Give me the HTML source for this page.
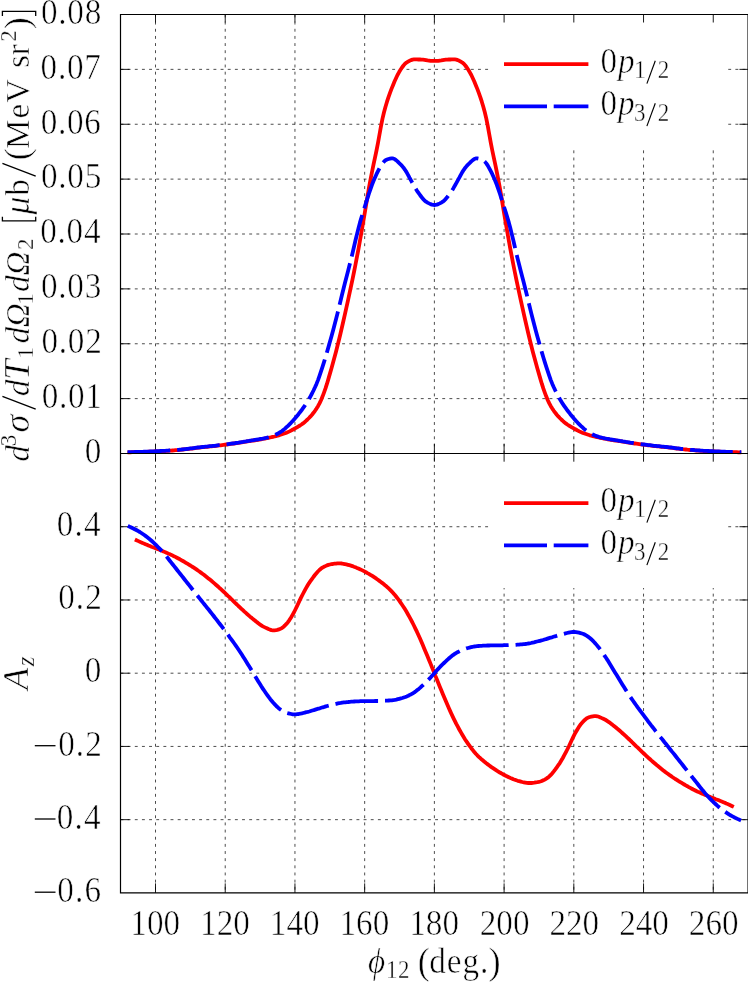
<!DOCTYPE html><html><head><meta charset="utf-8"><title>chart</title><style>html,body{margin:0;padding:0;background:#fff}svg text{stroke:#fff;stroke-width:0.55px}body{width:748px;height:982px;overflow:hidden;position:relative;font-family:"Liberation Serif",serif}</style></head><body><svg width="748" height="982" viewBox="0 0 748 982" style="position:absolute;left:0;top:0;will-change:transform;font-family:'Liberation Serif',serif">
<rect width="748" height="982" fill="#fff"/>
<path d="M155.50,14.5 V892.9 M225.22,14.5 V892.9 M294.94,14.5 V892.9 M364.66,14.5 V892.9 M434.38,14.5 V892.9 M504.10,14.5 V892.9 M573.82,14.5 V892.9 M643.54,14.5 V892.9 M713.26,14.5 V892.9 M120.5,398.62 H748 M120.5,343.75 H748 M120.5,288.88 H748 M120.5,234.00 H748 M120.5,179.12 H748 M120.5,124.25 H748 M120.5,69.37 H748 M120.5,526.73 H748 M120.5,599.97 H748 M120.5,673.20 H748 M120.5,746.43 H748 M120.5,819.67 H748" stroke="#111" stroke-width="0.75" stroke-dasharray="2.9 4.25" fill="none"/>
<rect x="491.5" y="15.1" width="235.5" height="132.9" fill="#fff"/>
<rect x="491.5" y="454.1" width="235.5" height="133.9" fill="#fff"/>
<path d="M155.50,14.5 v8 M155.50,444.0 v17.7 M155.50,892.9 v-9.5 M225.22,14.5 v8 M225.22,444.0 v17.7 M225.22,892.9 v-9.5 M294.94,14.5 v8 M294.94,444.0 v17.7 M294.94,892.9 v-9.5 M364.66,14.5 v8 M364.66,444.0 v17.7 M364.66,892.9 v-9.5 M434.38,14.5 v8 M434.38,444.0 v17.7 M434.38,892.9 v-9.5 M504.10,14.5 v8 M504.10,444.0 v17.7 M504.10,892.9 v-9.5 M573.82,14.5 v8 M573.82,444.0 v17.7 M573.82,892.9 v-9.5 M643.54,14.5 v8 M643.54,444.0 v17.7 M643.54,892.9 v-9.5 M713.26,14.5 v8 M713.26,444.0 v17.7 M713.26,892.9 v-9.5 M120.5,398.62 h9 M748.05,398.62 h-8.6 M120.5,343.75 h9 M748.05,343.75 h-8.6 M120.5,288.88 h9 M748.05,288.88 h-8.6 M120.5,234.00 h9 M748.05,234.00 h-8.6 M120.5,179.12 h9 M748.05,179.12 h-8.6 M120.5,124.25 h9 M748.05,124.25 h-8.6 M120.5,69.37 h9 M748.05,69.37 h-8.6 M120.5,526.73 h9 M748.05,526.73 h-8.6 M120.5,599.97 h9 M748.05,599.97 h-8.6 M120.5,673.20 h9 M748.05,673.20 h-8.6 M120.5,746.43 h9 M748.05,746.43 h-8.6 M120.5,819.67 h9 M748.05,819.67 h-8.6" stroke="#000" stroke-width="0.9" fill="none"/>
<path d="M127.5,452.3 L129.0,452.3 L130.5,452.3 L132.0,452.2 L133.5,452.2 L135.0,452.2 L136.5,452.1 L138.0,452.1 L139.5,452.0 L141.0,452.0 L142.5,452.0 L144.0,451.9 L145.5,451.9 L147.0,451.8 L148.5,451.7 L150.0,451.7 L151.5,451.6 L153.0,451.6 L154.5,451.5 L156.0,451.5 L157.5,451.4 L159.0,451.3 L160.5,451.2 L162.0,451.2 L163.5,451.1 L165.0,451.0 L166.5,450.9 L168.0,450.8 L169.5,450.7 L171.0,450.6 L172.5,450.5 L174.0,450.4 L175.5,450.2 L177.0,450.1 L178.5,450.0 L180.0,449.8 L181.5,449.7 L183.0,449.5 L184.5,449.3 L186.0,449.2 L187.5,449.0 L189.0,448.8 L190.5,448.6 L192.0,448.5 L193.5,448.3 L195.0,448.1 L196.5,447.9 L198.0,447.7 L199.5,447.6 L201.0,447.4 L202.5,447.2 L204.0,447.1 L205.5,446.9 L207.0,446.8 L208.5,446.6 L210.0,446.4 L211.5,446.3 L213.0,446.1 L214.5,446.0 L216.0,445.8 L217.5,445.6 L219.0,445.4 L220.5,445.3 L222.0,445.1 L223.5,444.9 L225.0,444.7 L226.5,444.5 L228.0,444.3 L229.5,444.1 L231.0,443.9 L232.5,443.7 L234.0,443.5 L235.5,443.3 L237.0,443.0 L238.5,442.8 L240.0,442.6 L241.5,442.4 L243.0,442.1 L244.5,441.9 L246.0,441.7 L247.5,441.4 L249.0,441.2 L250.5,441.0 L252.0,440.7 L253.5,440.5 L255.0,440.3 L256.5,440.0 L258.0,439.8 L259.5,439.5 L261.0,439.3 L262.5,439.0 L264.0,438.7 L265.5,438.5 L267.0,438.2 L268.5,437.9 L270.0,437.5 L271.5,437.2 L273.0,436.8 L274.5,436.5 L276.0,436.1 L277.5,435.7 L279.0,435.3 L280.5,434.8 L282.0,434.3 L283.5,433.8 L285.0,433.3 L286.5,432.7 L288.0,432.1 L289.5,431.4 L291.0,430.6 L292.5,429.8 L294.0,429.0 L295.5,428.1 L297.0,427.3 L298.5,426.4 L300.0,425.5 L301.5,424.5 L303.0,423.4 L304.5,422.2 L306.0,420.9 L307.5,419.5 L309.0,418.0 L310.5,416.4 L312.0,414.7 L313.5,412.8 L315.0,410.8 L316.5,408.6 L318.0,406.2 L319.5,403.4 L321.0,400.2 L322.5,396.6 L324.0,392.6 L325.5,388.4 L327.0,383.7 L328.5,378.6 L330.0,373.4 L331.5,368.2 L333.0,362.8 L334.5,357.3 L336.0,351.7 L337.5,345.8 L339.0,339.7 L340.5,333.5 L342.0,327.0 L343.5,320.5 L345.0,313.9 L346.5,307.1 L348.0,300.3 L349.5,293.3 L351.0,286.4 L352.5,279.3 L354.0,272.0 L355.5,264.5 L357.0,256.7 L358.5,248.8 L360.0,240.5 L361.5,232.0 L363.0,223.3 L364.5,214.5 L366.0,205.5 L367.5,196.4 L369.0,187.6 L370.5,179.6 L372.0,172.0 L373.5,164.7 L375.0,157.6 L376.5,150.5 L378.0,142.8 L379.5,134.5 L381.0,126.2 L382.5,118.6 L384.0,112.2 L385.5,106.7 L387.0,101.7 L388.5,97.1 L390.0,92.9 L391.5,88.9 L393.0,85.2 L394.5,81.5 L396.0,78.2 L397.5,75.0 L399.0,72.3 L400.5,69.8 L402.0,67.5 L403.5,65.5 L405.0,63.8 L406.5,62.6 L408.0,61.7 L409.5,60.8 L411.0,60.1 L412.5,59.6 L414.0,59.4 L415.5,59.4 L417.0,59.4 L418.5,59.5 L420.0,59.5 L421.5,59.6 L423.0,59.6 L424.5,59.8 L426.0,60.1 L427.5,60.4 L429.0,60.6 L430.5,60.8 L432.0,60.9 L433.5,60.9 L434.4,60.9 L435.3,60.9 L436.8,60.9 L438.3,60.8 L439.8,60.6 L441.3,60.4 L442.8,60.1 L444.3,59.8 L445.8,59.6 L447.3,59.6 L448.8,59.5 L450.3,59.5 L451.8,59.4 L453.3,59.4 L454.8,59.4 L456.3,59.6 L457.8,60.1 L459.3,60.8 L460.8,61.7 L462.3,62.6 L463.8,63.8 L465.3,65.5 L466.8,67.5 L468.3,69.8 L469.8,72.3 L471.3,75.0 L472.8,78.2 L474.3,81.5 L475.8,85.2 L477.3,88.9 L478.8,92.9 L480.3,97.1 L481.8,101.7 L483.3,106.7 L484.8,112.2 L486.3,118.6 L487.8,126.2 L489.3,134.5 L490.8,142.8 L492.3,150.5 L493.8,157.6 L495.3,164.7 L496.8,172.0 L498.3,179.6 L499.8,187.6 L501.3,196.4 L502.8,205.5 L504.3,214.5 L505.8,223.3 L507.3,232.0 L508.8,240.5 L510.3,248.8 L511.8,256.7 L513.3,264.5 L514.8,272.0 L516.3,279.3 L517.8,286.4 L519.3,293.3 L520.8,300.3 L522.3,307.1 L523.8,313.9 L525.3,320.5 L526.8,327.0 L528.3,333.5 L529.8,339.7 L531.3,345.8 L532.8,351.7 L534.3,357.3 L535.8,362.8 L537.3,368.2 L538.8,373.4 L540.3,378.6 L541.8,383.7 L543.3,388.4 L544.8,392.6 L546.3,396.6 L547.8,400.2 L549.3,403.4 L550.8,406.2 L552.3,408.6 L553.8,410.8 L555.3,412.8 L556.8,414.7 L558.3,416.4 L559.8,418.0 L561.3,419.5 L562.8,420.9 L564.3,422.2 L565.8,423.4 L567.3,424.5 L568.8,425.5 L570.3,426.4 L571.8,427.3 L573.3,428.1 L574.8,429.0 L576.3,429.8 L577.8,430.6 L579.3,431.4 L580.8,432.1 L582.3,432.7 L583.8,433.3 L585.3,433.8 L586.8,434.3 L588.3,434.8 L589.8,435.3 L591.3,435.7 L592.8,436.1 L594.3,436.5 L595.8,436.8 L597.3,437.2 L598.8,437.5 L600.3,437.9 L601.8,438.2 L603.3,438.5 L604.8,438.7 L606.3,439.0 L607.8,439.3 L609.3,439.5 L610.8,439.8 L612.3,440.0 L613.8,440.3 L615.3,440.5 L616.8,440.7 L618.3,441.0 L619.8,441.2 L621.3,441.4 L622.8,441.7 L624.3,441.9 L625.8,442.1 L627.3,442.4 L628.8,442.6 L630.3,442.8 L631.8,443.0 L633.3,443.3 L634.8,443.5 L636.3,443.7 L637.8,443.9 L639.3,444.1 L640.8,444.3 L642.3,444.5 L643.8,444.7 L645.3,444.9 L646.8,445.1 L648.3,445.3 L649.8,445.4 L651.3,445.6 L652.8,445.8 L654.3,446.0 L655.8,446.1 L657.3,446.3 L658.8,446.4 L660.3,446.6 L661.8,446.8 L663.3,446.9 L664.8,447.1 L666.3,447.2 L667.8,447.4 L669.3,447.6 L670.8,447.7 L672.3,447.9 L673.8,448.1 L675.3,448.3 L676.8,448.5 L678.3,448.6 L679.8,448.8 L681.3,449.0 L682.8,449.2 L684.3,449.3 L685.8,449.5 L687.3,449.7 L688.8,449.8 L690.3,450.0 L691.8,450.1 L693.3,450.2 L694.8,450.4 L696.3,450.5 L697.8,450.6 L699.3,450.7 L700.8,450.8 L702.3,450.9 L703.8,451.0 L705.3,451.1 L706.8,451.2 L708.3,451.2 L709.8,451.3 L711.3,451.4 L712.8,451.5 L714.3,451.5 L715.8,451.6 L717.3,451.6 L718.8,451.7 L720.3,451.7 L721.8,451.8 L723.3,451.9 L724.8,451.9 L726.3,452.0 L727.8,452.0 L729.3,452.0 L730.8,452.1 L732.3,452.1 L733.8,452.2 L735.3,452.2 L736.8,452.2 L738.3,452.3 L739.8,452.3 L741.3,452.3" stroke="#ff0000" stroke-width="3.8" fill="none" stroke-linejoin="round"/>
<path d="M127.5,452.2 L129.0,452.2 L130.5,452.1 L132.0,452.1 L133.5,452.1 L135.0,452.0 L136.5,452.0 L138.0,451.9 L139.5,451.9 L141.0,451.8 L142.5,451.8 L144.0,451.7 L145.5,451.7 L147.0,451.6 L148.5,451.6 L150.0,451.5 L151.5,451.4 L153.0,451.4 L154.5,451.3 L156.0,451.2 L157.5,451.2 L159.0,451.1 L160.5,451.0 L162.0,450.9 L163.5,450.9 L165.0,450.8 L166.5,450.7 L168.0,450.6 L169.5,450.5 L171.0,450.4 L172.5,450.3 L174.0,450.2 L175.5,450.0 L177.0,449.9 L178.5,449.8 L180.0,449.6 L181.5,449.5 L183.0,449.3 L184.5,449.1 L186.0,449.0 L187.5,448.8 L189.0,448.6 L190.5,448.4 L192.0,448.3 L193.5,448.1 L195.0,447.9 L196.5,447.7 L198.0,447.5 L199.5,447.4 L201.0,447.2 L202.5,447.0 L204.0,446.9 L205.5,446.7 L207.0,446.6 L208.5,446.4 L210.0,446.2 L211.5,446.1 L213.0,445.9 L214.5,445.8 L216.0,445.6 L217.5,445.4 L219.0,445.2 L220.5,445.1 L222.0,444.9 L223.5,444.7 L225.0,444.5 L226.5,444.3 L228.0,444.1 L229.5,443.9 L231.0,443.7 L232.5,443.5 L234.0,443.3 L235.5,443.0 L237.0,442.8 L238.5,442.6 L240.0,442.3 L241.5,442.1 L243.0,441.9 L244.5,441.6 L246.0,441.4 L247.5,441.1 L249.0,440.9 L250.5,440.6 L252.0,440.4 L253.5,440.2 L255.0,439.9 L256.5,439.7 L258.0,439.5 L259.5,439.2 L261.0,438.9 L262.5,438.7 L264.0,438.4 L265.5,438.0 L267.0,437.7 L268.5,437.3 L270.0,436.9 L271.5,436.4 L273.0,435.9 L274.5,435.2 L276.0,434.5 L277.5,433.8 L279.0,432.9 L280.5,432.0 L282.0,431.0 L283.5,429.9 L285.0,428.6 L286.5,427.2 L288.0,425.8 L289.5,424.3 L291.0,422.8 L292.5,421.2 L294.0,419.6 L295.5,417.8 L297.0,416.0 L298.5,414.2 L300.0,412.2 L301.5,410.3 L303.0,408.2 L304.5,406.1 L306.0,403.9 L307.5,401.5 L309.0,399.0 L310.5,396.3 L312.0,393.5 L313.5,390.5 L315.0,387.3 L316.5,383.9 L318.0,380.1 L319.5,375.9 L321.0,371.4 L322.5,366.8 L324.0,362.1 L325.5,357.2 L327.0,352.1 L328.5,346.9 L330.0,341.6 L331.5,336.2 L333.0,330.7 L334.5,325.1 L336.0,319.3 L337.5,313.4 L339.0,307.2 L340.5,301.0 L342.0,294.8 L343.5,288.7 L345.0,282.8 L346.5,277.0 L348.0,271.2 L349.5,265.3 L351.0,259.4 L352.5,253.2 L354.0,246.8 L355.5,240.3 L357.0,234.1 L358.5,228.1 L360.0,222.4 L361.5,217.2 L363.0,212.4 L364.5,207.7 L366.0,202.9 L367.5,198.1 L369.0,193.5 L370.5,189.1 L372.0,184.8 L373.5,181.0 L375.0,177.5 L376.5,174.2 L378.0,171.2 L379.5,168.3 L381.0,165.6 L382.5,163.4 L384.0,161.6 L385.5,160.2 L387.0,159.5 L388.5,159.0 L390.0,158.6 L391.5,158.3 L393.0,158.4 L394.5,159.0 L396.0,160.1 L397.5,161.4 L399.0,162.9 L400.5,164.3 L402.0,165.9 L403.5,167.7 L405.0,169.8 L406.5,172.1 L408.0,174.8 L409.5,177.7 L411.0,180.4 L412.5,183.1 L414.0,185.8 L415.5,188.4 L417.0,190.8 L418.5,192.9 L420.0,195.0 L421.5,197.0 L423.0,198.9 L424.5,200.5 L426.0,201.7 L427.5,202.6 L429.0,203.4 L430.5,204.1 L432.0,204.6 L433.5,204.9 L434.4,205.0 L435.3,204.9 L436.8,204.6 L438.3,204.1 L439.8,203.4 L441.3,202.6 L442.8,201.7 L444.3,200.5 L445.8,198.9 L447.3,197.0 L448.8,195.0 L450.3,192.9 L451.8,190.8 L453.3,188.4 L454.8,185.8 L456.3,183.1 L457.8,180.4 L459.3,177.7 L460.8,174.8 L462.3,172.1 L463.8,169.8 L465.3,167.7 L466.8,165.9 L468.3,164.3 L469.8,162.9 L471.3,161.4 L472.8,160.1 L474.3,159.0 L475.8,158.4 L477.3,158.3 L478.8,158.6 L480.3,159.0 L481.8,159.5 L483.3,160.2 L484.8,161.6 L486.3,163.4 L487.8,165.6 L489.3,168.3 L490.8,171.2 L492.3,174.2 L493.8,177.5 L495.3,181.0 L496.8,184.8 L498.3,189.1 L499.8,193.5 L501.3,198.1 L502.8,202.9 L504.3,207.7 L505.8,212.4 L507.3,217.2 L508.8,222.4 L510.3,228.1 L511.8,234.1 L513.3,240.3 L514.8,246.8 L516.3,253.2 L517.8,259.4 L519.3,265.3 L520.8,271.2 L522.3,277.0 L523.8,282.8 L525.3,288.7 L526.8,294.8 L528.3,301.0 L529.8,307.2 L531.3,313.4 L532.8,319.3 L534.3,325.1 L535.8,330.7 L537.3,336.2 L538.8,341.6 L540.3,346.9 L541.8,352.1 L543.3,357.2 L544.8,362.1 L546.3,366.8 L547.8,371.4 L549.3,375.9 L550.8,380.1 L552.3,383.9 L553.8,387.3 L555.3,390.5 L556.8,393.5 L558.3,396.3 L559.8,399.0 L561.3,401.5 L562.8,403.9 L564.3,406.1 L565.8,408.2 L567.3,410.3 L568.8,412.2 L570.3,414.2 L571.8,416.0 L573.3,417.8 L574.8,419.6 L576.3,421.2 L577.8,422.8 L579.3,424.3 L580.8,425.8 L582.3,427.2 L583.8,428.6 L585.3,429.9 L586.8,431.0 L588.3,432.0 L589.8,432.9 L591.3,433.8 L592.8,434.5 L594.3,435.2 L595.8,435.9 L597.3,436.4 L598.8,436.9 L600.3,437.3 L601.8,437.7 L603.3,438.0 L604.8,438.4 L606.3,438.7 L607.8,438.9 L609.3,439.2 L610.8,439.5 L612.3,439.7 L613.8,439.9 L615.3,440.2 L616.8,440.4 L618.3,440.6 L619.8,440.9 L621.3,441.1 L622.8,441.4 L624.3,441.6 L625.8,441.9 L627.3,442.1 L628.8,442.3 L630.3,442.6 L631.8,442.8 L633.3,443.0 L634.8,443.3 L636.3,443.5 L637.8,443.7 L639.3,443.9 L640.8,444.1 L642.3,444.3 L643.8,444.5 L645.3,444.7 L646.8,444.9 L648.3,445.1 L649.8,445.2 L651.3,445.4 L652.8,445.6 L654.3,445.8 L655.8,445.9 L657.3,446.1 L658.8,446.2 L660.3,446.4 L661.8,446.6 L663.3,446.7 L664.8,446.9 L666.3,447.0 L667.8,447.2 L669.3,447.4 L670.8,447.5 L672.3,447.7 L673.8,447.9 L675.3,448.1 L676.8,448.3 L678.3,448.4 L679.8,448.6 L681.3,448.8 L682.8,449.0 L684.3,449.1 L685.8,449.3 L687.3,449.5 L688.8,449.6 L690.3,449.8 L691.8,449.9 L693.3,450.0 L694.8,450.2 L696.3,450.3 L697.8,450.4 L699.3,450.5 L700.8,450.6 L702.3,450.7 L703.8,450.8 L705.3,450.9 L706.8,450.9 L708.3,451.0 L709.8,451.1 L711.3,451.2 L712.8,451.2 L714.3,451.3 L715.8,451.4 L717.3,451.4 L718.8,451.5 L720.3,451.6 L721.8,451.6 L723.3,451.7 L724.8,451.7 L726.3,451.8 L727.8,451.8 L729.3,451.9 L730.8,451.9 L732.3,452.0 L733.8,452.0 L735.3,452.1 L736.8,452.1 L738.3,452.1 L739.8,452.2 L741.3,452.2" stroke="#0000ff" stroke-width="3.8" fill="none" stroke-dasharray="42.8 6.95" stroke-linejoin="round"/>
<path d="M134.9,539.5 L136.4,540.2 L137.9,540.9 L139.4,541.6 L140.9,542.3 L142.4,542.9 L143.9,543.6 L145.4,544.2 L146.9,544.8 L148.4,545.5 L149.9,546.1 L151.4,546.7 L152.9,547.2 L154.4,547.8 L155.9,548.4 L157.4,549.0 L158.9,549.6 L160.4,550.2 L161.9,550.8 L163.4,551.4 L164.9,552.1 L166.4,552.7 L167.9,553.4 L169.4,554.1 L170.9,554.7 L172.4,555.4 L173.9,556.2 L175.4,556.9 L176.9,557.7 L178.4,558.5 L179.9,559.3 L181.4,560.2 L182.9,561.0 L184.4,561.9 L185.9,562.8 L187.4,563.7 L188.9,564.6 L190.4,565.5 L191.9,566.5 L193.4,567.4 L194.9,568.4 L196.4,569.4 L197.9,570.5 L199.4,571.5 L200.9,572.6 L202.4,573.7 L203.9,574.8 L205.4,576.0 L206.9,577.2 L208.4,578.4 L209.9,579.6 L211.4,580.8 L212.9,582.1 L214.4,583.4 L215.9,584.7 L217.4,586.0 L218.9,587.4 L220.4,588.7 L221.9,590.1 L223.4,591.5 L224.9,592.9 L226.4,594.3 L227.9,595.8 L229.4,597.2 L230.9,598.7 L232.4,600.1 L233.9,601.6 L235.4,603.1 L236.9,604.5 L238.4,606.0 L239.9,607.4 L241.4,608.8 L242.9,610.2 L244.4,611.6 L245.9,612.9 L247.4,614.3 L248.9,615.6 L250.4,616.9 L251.9,618.1 L253.4,619.4 L254.9,620.5 L256.4,621.8 L257.9,622.9 L259.4,624.1 L260.9,625.1 L262.4,626.1 L263.9,626.9 L265.4,627.6 L266.9,628.3 L268.4,629.0 L269.9,629.6 L271.4,630.1 L272.9,630.3 L274.4,630.3 L275.9,630.1 L277.4,629.8 L278.9,629.4 L280.4,628.8 L281.9,628.1 L283.4,626.9 L284.9,625.5 L286.4,623.9 L287.9,622.2 L289.4,620.1 L290.9,617.7 L292.4,615.1 L293.9,612.5 L295.4,609.5 L296.9,606.4 L298.4,603.2 L299.9,599.9 L301.4,596.9 L302.9,594.0 L304.4,591.2 L305.9,588.4 L307.4,585.8 L308.9,583.3 L310.4,581.2 L311.9,579.1 L313.4,577.0 L314.9,575.0 L316.4,573.2 L317.9,571.5 L319.4,570.0 L320.9,568.7 L322.4,567.7 L323.9,566.8 L325.4,566.1 L326.9,565.4 L328.4,564.9 L329.9,564.5 L331.4,564.2 L332.9,564.0 L334.4,563.7 L335.9,563.6 L337.4,563.4 L338.9,563.4 L340.4,563.4 L341.9,563.5 L343.4,563.8 L344.9,564.1 L346.4,564.4 L347.9,564.8 L349.4,565.2 L350.9,565.6 L352.4,566.1 L353.9,566.7 L355.4,567.2 L356.9,567.9 L358.4,568.5 L359.9,569.2 L361.4,569.9 L362.9,570.6 L364.4,571.4 L365.9,572.2 L367.4,573.1 L368.9,573.9 L370.4,574.8 L371.9,575.7 L373.4,576.7 L374.9,577.7 L376.4,578.7 L377.9,579.8 L379.4,580.9 L380.9,582.0 L382.4,583.1 L383.9,584.3 L385.4,585.6 L386.9,586.8 L388.4,588.2 L389.9,589.6 L391.4,591.1 L392.9,592.7 L394.4,594.4 L395.9,596.3 L397.4,598.2 L398.9,600.2 L400.4,602.3 L401.9,604.5 L403.4,606.7 L404.9,609.1 L406.4,611.6 L407.9,614.2 L409.4,616.9 L410.9,619.7 L412.4,622.5 L413.9,625.5 L415.4,628.6 L416.9,631.7 L418.4,635.0 L419.9,638.3 L421.4,641.8 L422.9,645.3 L424.4,648.9 L425.9,652.5 L427.4,656.1 L428.9,659.7 L430.4,663.4 L431.9,667.1 L433.4,670.8 L434.4,673.2 L435.3,675.6 L436.8,679.3 L438.3,683.0 L439.8,686.7 L441.3,690.3 L442.8,693.9 L444.3,697.5 L445.8,701.1 L447.3,704.6 L448.8,708.1 L450.3,711.4 L451.8,714.7 L453.3,717.8 L454.8,720.9 L456.3,723.9 L457.8,726.7 L459.3,729.5 L460.8,732.2 L462.3,734.8 L463.8,737.3 L465.3,739.7 L466.8,741.9 L468.3,744.1 L469.8,746.2 L471.3,748.2 L472.8,750.1 L474.3,752.0 L475.8,753.7 L477.3,755.3 L478.8,756.8 L480.3,758.2 L481.8,759.6 L483.3,760.8 L484.8,762.1 L486.3,763.3 L487.8,764.4 L489.3,765.5 L490.8,766.6 L492.3,767.7 L493.8,768.7 L495.3,769.7 L496.8,770.7 L498.3,771.6 L499.8,772.5 L501.3,773.3 L502.8,774.2 L504.3,775.0 L505.8,775.8 L507.3,776.5 L508.8,777.2 L510.3,777.9 L511.8,778.5 L513.3,779.2 L514.8,779.7 L516.3,780.3 L517.8,780.8 L519.3,781.2 L520.8,781.6 L522.3,782.0 L523.8,782.3 L525.3,782.6 L526.8,782.9 L528.3,783.0 L529.8,783.0 L531.3,783.0 L532.8,782.8 L534.3,782.7 L535.8,782.4 L537.3,782.2 L538.8,781.9 L540.3,781.5 L541.8,781.0 L543.3,780.3 L544.8,779.6 L546.3,778.7 L547.8,777.7 L549.3,776.4 L550.8,774.9 L552.3,773.2 L553.8,771.4 L555.3,769.4 L556.8,767.3 L558.3,765.2 L559.8,763.1 L561.3,760.6 L562.8,758.0 L564.3,755.2 L565.8,752.4 L567.3,749.5 L568.8,746.5 L570.3,743.2 L571.8,740.0 L573.3,736.9 L574.8,733.9 L576.3,731.3 L577.8,728.7 L579.3,726.3 L580.8,724.2 L582.3,722.5 L583.8,720.9 L585.3,719.5 L586.8,718.3 L588.3,717.6 L589.8,717.0 L591.3,716.6 L592.8,716.3 L594.3,716.1 L595.8,716.1 L597.3,716.3 L598.8,716.8 L600.3,717.4 L601.8,718.1 L603.3,718.8 L604.8,719.5 L606.3,720.3 L607.8,721.3 L609.3,722.3 L610.8,723.5 L612.3,724.6 L613.8,725.9 L615.3,727.0 L616.8,728.3 L618.3,729.5 L619.8,730.8 L621.3,732.1 L622.8,733.5 L624.3,734.8 L625.8,736.2 L627.3,737.6 L628.8,739.0 L630.3,740.4 L631.8,741.9 L633.3,743.3 L634.8,744.8 L636.3,746.3 L637.8,747.7 L639.3,749.2 L640.8,750.6 L642.3,752.1 L643.8,753.5 L645.3,754.9 L646.8,756.3 L648.3,757.7 L649.8,759.0 L651.3,760.4 L652.8,761.7 L654.3,763.0 L655.8,764.3 L657.3,765.6 L658.8,766.8 L660.3,768.0 L661.8,769.2 L663.3,770.4 L664.8,771.6 L666.3,772.7 L667.8,773.8 L669.3,774.9 L670.8,775.9 L672.3,777.0 L673.8,778.0 L675.3,779.0 L676.8,779.9 L678.3,780.9 L679.8,781.8 L681.3,782.7 L682.8,783.6 L684.3,784.5 L685.8,785.4 L687.3,786.2 L688.8,787.1 L690.3,787.9 L691.8,788.7 L693.3,789.5 L694.8,790.2 L696.3,791.0 L697.8,791.7 L699.3,792.3 L700.8,793.0 L702.3,793.7 L703.8,794.3 L705.3,795.0 L706.8,795.6 L708.3,796.2 L709.8,796.8 L711.3,797.4 L712.8,798.0 L714.3,798.6 L715.8,799.2 L717.3,799.7 L718.8,800.3 L720.3,800.9 L721.8,801.6 L723.3,802.2 L724.8,802.8 L726.3,803.5 L727.8,804.1 L729.3,804.8 L730.8,805.5 L732.3,806.2 L733.8,806.9" stroke="#ff0000" stroke-width="3.8" fill="none" stroke-linejoin="round"/>
<path d="M127.8,526.0 L129.3,526.6 L130.8,527.3 L132.3,528.0 L133.8,528.7 L135.3,529.5 L136.8,530.3 L138.3,531.1 L139.8,532.0 L141.3,533.0 L142.8,534.0 L144.3,535.0 L145.8,536.1 L147.3,537.2 L148.8,538.4 L150.3,539.7 L151.8,541.0 L153.3,542.4 L154.8,543.8 L156.3,545.2 L157.8,546.8 L159.3,548.3 L160.8,549.9 L162.3,551.5 L163.8,553.3 L165.3,555.1 L166.8,556.9 L168.3,558.8 L169.8,560.7 L171.3,562.6 L172.8,564.5 L174.3,566.4 L175.8,568.3 L177.3,570.2 L178.8,572.1 L180.3,574.0 L181.8,575.9 L183.3,577.8 L184.8,579.7 L186.3,581.6 L187.8,583.5 L189.3,585.4 L190.8,587.3 L192.3,589.2 L193.8,591.1 L195.3,593.0 L196.8,594.8 L198.3,596.7 L199.8,598.6 L201.3,600.5 L202.8,602.4 L204.3,604.2 L205.8,606.1 L207.3,608.0 L208.8,609.8 L210.3,611.7 L211.8,613.6 L213.3,615.5 L214.8,617.5 L216.3,619.4 L217.8,621.3 L219.3,623.3 L220.8,625.2 L222.3,627.2 L223.8,629.2 L225.3,631.2 L226.8,633.2 L228.3,635.2 L229.8,637.3 L231.3,639.3 L232.8,641.4 L234.3,643.5 L235.8,645.6 L237.3,647.8 L238.8,650.0 L240.3,652.2 L241.8,654.5 L243.3,656.9 L244.8,659.3 L246.3,661.7 L247.8,664.2 L249.3,666.6 L250.8,669.1 L252.3,671.6 L253.8,674.0 L255.3,676.4 L256.8,678.9 L258.3,681.4 L259.8,683.8 L261.3,686.3 L262.8,688.6 L264.3,690.8 L265.8,693.0 L267.3,695.1 L268.8,697.2 L270.3,699.2 L271.8,701.0 L273.3,702.8 L274.8,704.4 L276.3,706.0 L277.8,707.4 L279.3,708.7 L280.8,709.8 L282.3,710.8 L283.8,711.6 L285.3,712.4 L286.8,712.9 L288.3,713.3 L289.8,713.7 L291.3,714.0 L292.8,714.3 L294.3,714.4 L295.8,714.4 L297.3,714.2 L298.8,714.0 L300.3,713.7 L301.8,713.4 L303.3,713.0 L304.8,712.6 L306.3,712.2 L307.8,711.9 L309.3,711.5 L310.8,711.0 L312.3,710.5 L313.8,710.1 L315.3,709.6 L316.8,709.1 L318.3,708.7 L319.8,708.3 L321.3,707.8 L322.8,707.3 L324.3,706.9 L325.8,706.4 L327.3,706.0 L328.8,705.6 L330.3,705.2 L331.8,704.9 L333.3,704.5 L334.8,704.1 L336.3,703.8 L337.8,703.4 L339.3,703.1 L340.8,702.9 L342.3,702.6 L343.8,702.4 L345.3,702.3 L346.8,702.1 L348.3,702.0 L349.8,701.8 L351.3,701.7 L352.8,701.6 L354.3,701.5 L355.8,701.4 L357.3,701.3 L358.8,701.3 L360.3,701.2 L361.8,701.2 L363.3,701.2 L364.8,701.2 L366.3,701.1 L367.8,701.1 L369.3,701.1 L370.8,701.1 L372.3,701.1 L373.8,701.1 L375.3,701.0 L376.8,701.0 L378.3,701.0 L379.8,700.9 L381.3,700.9 L382.8,700.8 L384.3,700.7 L385.8,700.7 L387.3,700.6 L388.8,700.5 L390.3,700.4 L391.8,700.3 L393.3,700.1 L394.8,699.9 L396.3,699.6 L397.8,699.2 L399.3,698.8 L400.8,698.4 L402.3,698.0 L403.8,697.5 L405.3,697.0 L406.8,696.4 L408.3,695.7 L409.8,694.9 L411.3,694.2 L412.8,693.3 L414.3,692.4 L415.8,691.3 L417.3,690.1 L418.8,688.9 L420.3,687.6 L421.8,686.2 L423.3,684.8 L424.8,683.4 L426.3,682.0 L427.8,680.5 L429.3,678.9 L430.8,677.3 L432.3,675.6 L433.8,673.9 L434.4,673.2 L435.0,672.5 L436.5,670.8 L438.0,669.1 L439.5,667.5 L441.0,665.9 L442.5,664.4 L444.0,663.0 L445.5,661.6 L447.0,660.2 L448.5,658.8 L450.0,657.5 L451.5,656.3 L453.0,655.1 L454.5,654.0 L456.0,653.1 L457.5,652.2 L459.0,651.5 L460.5,650.7 L462.0,650.0 L463.5,649.4 L465.0,648.9 L466.5,648.4 L468.0,648.0 L469.5,647.6 L471.0,647.2 L472.5,646.8 L474.0,646.5 L475.5,646.3 L477.0,646.1 L478.5,646.0 L480.0,645.9 L481.5,645.8 L483.0,645.7 L484.5,645.7 L486.0,645.6 L487.5,645.5 L489.0,645.5 L490.5,645.4 L492.0,645.4 L493.5,645.4 L495.0,645.3 L496.5,645.3 L498.0,645.3 L499.5,645.3 L501.0,645.3 L502.5,645.3 L504.0,645.2 L505.5,645.2 L507.0,645.2 L508.5,645.2 L510.0,645.1 L511.5,645.1 L513.0,645.0 L514.5,644.9 L516.0,644.8 L517.5,644.7 L519.0,644.6 L520.5,644.4 L522.0,644.3 L523.5,644.1 L525.0,644.0 L526.5,643.8 L528.0,643.5 L529.5,643.3 L531.0,643.0 L532.5,642.6 L534.0,642.3 L535.5,641.9 L537.0,641.5 L538.5,641.2 L540.0,640.8 L541.5,640.4 L543.0,640.0 L544.5,639.5 L546.0,639.1 L547.5,638.6 L549.0,638.1 L550.5,637.7 L552.0,637.3 L553.5,636.8 L555.0,636.3 L556.5,635.9 L558.0,635.4 L559.5,634.9 L561.0,634.5 L562.5,634.2 L564.0,633.8 L565.5,633.4 L567.0,633.0 L568.5,632.7 L570.0,632.4 L571.5,632.2 L573.0,632.0 L574.5,632.0 L576.0,632.1 L577.5,632.4 L579.0,632.7 L580.5,633.1 L582.0,633.5 L583.5,634.0 L585.0,634.8 L586.5,635.6 L588.0,636.6 L589.5,637.7 L591.0,639.0 L592.5,640.4 L594.0,642.0 L595.5,643.6 L597.0,645.4 L598.5,647.2 L600.0,649.2 L601.5,651.3 L603.0,653.4 L604.5,655.6 L606.0,657.8 L607.5,660.1 L609.0,662.6 L610.5,665.0 L612.0,667.5 L613.5,670.0 L615.0,672.4 L616.5,674.8 L618.0,677.3 L619.5,679.8 L621.0,682.2 L622.5,684.7 L624.0,687.1 L625.5,689.5 L627.0,691.9 L628.5,694.2 L630.0,696.4 L631.5,698.6 L633.0,700.8 L634.5,702.9 L636.0,705.0 L637.5,707.1 L639.0,709.1 L640.5,711.2 L642.0,713.2 L643.5,715.2 L645.0,717.2 L646.5,719.2 L648.0,721.2 L649.5,723.1 L651.0,725.1 L652.5,727.0 L654.0,728.9 L655.5,730.9 L657.0,732.8 L658.5,734.7 L660.0,736.6 L661.5,738.4 L663.0,740.3 L664.5,742.2 L666.0,744.0 L667.5,745.9 L669.0,747.8 L670.5,749.7 L672.0,751.6 L673.5,753.4 L675.0,755.3 L676.5,757.2 L678.0,759.1 L679.5,761.0 L681.0,762.9 L682.5,764.8 L684.0,766.7 L685.5,768.6 L687.0,770.5 L688.5,772.4 L690.0,774.3 L691.5,776.2 L693.0,778.1 L694.5,780.0 L696.0,781.9 L697.5,783.8 L699.0,785.7 L700.5,787.6 L702.0,789.5 L703.5,791.3 L705.0,793.1 L706.5,794.9 L708.0,796.5 L709.5,798.1 L711.0,799.6 L712.5,801.2 L714.0,802.6 L715.5,804.0 L717.0,805.4 L718.5,806.7 L720.0,808.0 L721.5,809.2 L723.0,810.3 L724.5,811.4 L726.0,812.4 L727.5,813.4 L729.0,814.4 L730.5,815.3 L732.0,816.1 L733.5,816.9 L735.0,817.7 L736.5,818.4 L738.0,819.1 L739.5,819.8 L741.0,820.4" stroke="#0000ff" stroke-width="3.8" fill="none" stroke-dasharray="42.8 6.95" stroke-linejoin="round"/>
<path d="M120.5,14.5 H748.05 V892.9 H120.5 Z M120.5,453.5 H748.05" stroke="#000" stroke-width="1.2" fill="none"/>
<path d="M504,64.1 H588.4" stroke="#ff0000" stroke-width="3.8"/><path d="M504,106.3 H588.4" stroke="#0000ff" stroke-width="3.8" stroke-dasharray="43 6.7"/><text transform="translate(600.50 72.70) scale(1 1.065)" font-size="33.2">0</text><text transform="translate(618.08 72.70) scale(1 1.065)" font-size="33.2" font-style="italic">p</text><text transform="translate(634.13 78.30) scale(1 1.065)" font-size="23" style="stroke-width:0.35px">1</text><text transform="translate(657.78 78.30) scale(1 1.065)" font-size="23" style="stroke-width:0.35px">2</text><path d="M646.9,83.6 L655.3,60.8" stroke="#000" stroke-width="1.15"/><text transform="translate(600.50 115.20) scale(1 1.065)" font-size="33.2">0</text><text transform="translate(618.08 115.20) scale(1 1.065)" font-size="33.2" font-style="italic">p</text><text transform="translate(634.05 120.80) scale(1 1.065)" font-size="23" style="stroke-width:0.35px">3</text><text transform="translate(657.78 120.80) scale(1 1.065)" font-size="23" style="stroke-width:0.35px">2</text><path d="M646.9,126.1 L655.3,103.3" stroke="#000" stroke-width="1.15"/>
<path d="M504,503.1 H588.4" stroke="#ff0000" stroke-width="3.8"/><path d="M504,545.3000000000001 H588.4" stroke="#0000ff" stroke-width="3.8" stroke-dasharray="43 6.7"/><text transform="translate(600.50 511.70) scale(1 1.065)" font-size="33.2">0</text><text transform="translate(618.08 511.70) scale(1 1.065)" font-size="33.2" font-style="italic">p</text><text transform="translate(634.13 517.30) scale(1 1.065)" font-size="23" style="stroke-width:0.35px">1</text><text transform="translate(657.78 517.30) scale(1 1.065)" font-size="23" style="stroke-width:0.35px">2</text><path d="M646.9,522.6 L655.3,499.8" stroke="#000" stroke-width="1.15"/><text transform="translate(600.50 554.20) scale(1 1.065)" font-size="33.2">0</text><text transform="translate(618.08 554.20) scale(1 1.065)" font-size="33.2" font-style="italic">p</text><text transform="translate(634.05 559.80) scale(1 1.065)" font-size="23" style="stroke-width:0.35px">3</text><text transform="translate(657.78 559.80) scale(1 1.065)" font-size="23" style="stroke-width:0.35px">2</text><path d="M646.9,565.1 L655.3,542.3" stroke="#000" stroke-width="1.15"/>
<text transform="translate(84.66 462.80) scale(1 1.065)" font-size="33.2" letter-spacing="0.75">0</text>
<text transform="translate(41.64 407.93) scale(1 1.065)" font-size="33.2" letter-spacing="0.75">0.01</text>
<text transform="translate(41.48 353.05) scale(1 1.065)" font-size="33.2" letter-spacing="0.75">0.02</text>
<text transform="translate(40.95 298.18) scale(1 1.065)" font-size="33.2" letter-spacing="0.75">0.03</text>
<text transform="translate(40.17 243.30) scale(1 1.065)" font-size="33.2" letter-spacing="0.75">0.04</text>
<text transform="translate(40.95 188.43) scale(1 1.065)" font-size="33.2" letter-spacing="0.75">0.05</text>
<text transform="translate(40.64 133.55) scale(1 1.065)" font-size="33.2" letter-spacing="0.75">0.06</text>
<text transform="translate(40.61 78.67) scale(1 1.065)" font-size="33.2" letter-spacing="0.75">0.07</text>
<text transform="translate(40.91 23.80) scale(1 1.065)" font-size="33.2" letter-spacing="0.75">0.08</text>
<text transform="translate(56.82 535.93) scale(1 1.065)" font-size="33.2" letter-spacing="1.1">0.4</text>
<text transform="translate(58.13 609.17) scale(1 1.065)" font-size="33.2" letter-spacing="1.1">0.2</text>
<text transform="translate(84.66 682.40) scale(1 1.065)" font-size="33.2" letter-spacing="1.1">0</text>
<text transform="translate(58.13 755.63) scale(1 1.065)" font-size="33.2" letter-spacing="1.1">0.2</text>
<path d="M34.8,745.7 H55.5" stroke="#000" stroke-width="1.3"/>
<text transform="translate(56.82 828.87) scale(1 1.065)" font-size="33.2" letter-spacing="1.1">0.4</text>
<path d="M34.8,819.0 H55.5" stroke="#000" stroke-width="1.3"/>
<text transform="translate(57.29 902.10) scale(1 1.065)" font-size="33.2" letter-spacing="1.1">0.6</text>
<path d="M34.8,892.2 H55.5" stroke="#000" stroke-width="1.3"/>
<text transform="translate(130.37 934.70) scale(1 1.065)" font-size="33.2">100</text>
<text transform="translate(200.09 934.70) scale(1 1.065)" font-size="33.2">120</text>
<text transform="translate(269.81 934.70) scale(1 1.065)" font-size="33.2">140</text>
<text transform="translate(339.53 934.70) scale(1 1.065)" font-size="33.2">160</text>
<text transform="translate(409.25 934.70) scale(1 1.065)" font-size="33.2">180</text>
<text transform="translate(479.70 934.70) scale(1 1.065)" font-size="33.2">200</text>
<text transform="translate(549.42 934.70) scale(1 1.065)" font-size="33.2">220</text>
<text transform="translate(619.14 934.70) scale(1 1.065)" font-size="33.2">240</text>
<text transform="translate(688.86 934.70) scale(1 1.065)" font-size="33.2">260</text>
<text transform="translate(367.92 973.20) scale(1 1.065)" font-size="33.2" font-style="italic">ϕ</text>
<text transform="translate(386.08 978.20) scale(1 1.065)" font-size="23" letter-spacing="0.5" style="stroke-width:0.35px">12</text>
<text transform="translate(417.73 973.70) scale(1 1.065)" font-size="36.4">(</text>
<text transform="translate(429.20 973.20) scale(1 1.065)" font-size="33.2" letter-spacing="1.0">deg</text>
<text transform="translate(480.05 973.20) scale(1 1.065)" font-size="33.2">.</text>
<text transform="translate(488.55 973.70) scale(1 1.065)" font-size="36.4">)</text>
<g transform="translate(28.1,692) rotate(-90)"><text x="2.33" y="0.00" font-size="36" font-style="italic">A</text><text x="25.89" y="5.70" font-size="25" font-style="italic" style="stroke-width:0.35px">z</text></g>
<g transform="translate(28.6,460) rotate(-90)"><text x="-1.64" y="0.00" font-size="33.2" font-style="italic">d</text><text x="13.65" y="-12.60" font-size="23" style="stroke-width:0.35px">3</text><text x="27.52" y="0.00" font-size="36" font-style="italic">σ</text><path d="M50.9,7.1 L63.6,-26.2" stroke="#000" stroke-width="1.3"/><text x="63.86" y="0.00" font-size="33.2" font-style="italic">d</text><text x="80.15" y="0.00" font-size="36" font-style="italic">T</text><text x="101.43" y="4.70" font-size="23" style="stroke-width:0.35px">1</text><text x="116.41" y="0.00" font-size="33.2" font-style="italic">d</text><text x="132.84" y="0.00" font-size="33.2" font-style="italic">Ω</text><text x="155.18" y="4.70" font-size="23" style="stroke-width:0.35px">1</text><text x="167.91" y="0.00" font-size="33.2" font-style="italic">d</text><text x="184.64" y="0.00" font-size="33.2" font-style="italic">Ω</text><text x="210.13" y="4.70" font-size="23" style="stroke-width:0.35px">2</text><path d="M243.2,7.1 H239.1 V-26.2 H243.2" stroke="#000" stroke-width="1.3" fill="none"/><text x="245.53" y="0.00" font-size="36" font-style="italic">μ</text><text x="264.33" y="0.00" font-size="33.2">b</text><path d="M283.9,7.1 L296.6,-26.2" stroke="#000" stroke-width="1.3"/><text x="299.73" y="0.60" font-size="36.4">(</text><text x="310.90" y="0.00" font-size="33.2">M</text><text x="341.46" y="0.00" font-size="33.2">e</text><text x="356.91" y="0.00" font-size="33.2">V</text><text x="392.11" y="0.00" font-size="33.2">s</text><text x="404.89" y="0.00" font-size="33.2">r</text><text x="418.38" y="-12.60" font-size="23" style="stroke-width:0.35px">2</text><text x="430.65" y="0.60" font-size="36.4">)</text><path d="M444.0,7.1 H448.6 V-26.2 H444.0" stroke="#000" stroke-width="1.3" fill="none"/></g>
</svg></body></html>
